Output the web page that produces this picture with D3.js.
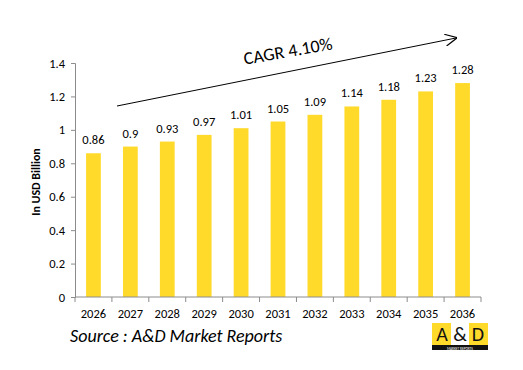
<!DOCTYPE html>
<html>
<head>
<meta charset="utf-8">
<script src="https://cdn.jsdelivr.net/npm/d3@7"></script>
<style>
  body { margin: 0; background: #fff; }
  svg text { font-family: Calibri, Carlito, Lato, "Open Sans", sans-serif; }
</style>
</head>
<body>
<div id="chart"></div>
<script>
// Données
const years = ["2026", "2027", "2028", "2029", "2030", "2031", "2032", "2033", "2034", "2035", "2036"];
const values = [0.86, 0.9, 0.93, 0.97, 1.01, 1.05, 1.09, 1.14, 1.18, 1.23, 1.28];
const yTicks = [0, 0.2, 0.4, 0.6, 0.8, 1, 1.2, 1.4];

const width = 523;
const height = 370;
const margin = {top: 63, right: 42, bottom: 73, left: 75};

const svg = d3.select("#chart")
    .append("svg")
    .attr("width", width)
    .attr("height", height);

const plot = svg.append("g")
    .attr("transform", `translate(${margin.left}, ${margin.top})`);

const innerW = width - margin.left - margin.right;
const innerH = height - margin.top - margin.bottom;

// Échelles
const scaleX = d3.scaleBand()
    .domain(years)
    .range([0, innerW])
    .paddingInner(0.6)
    .paddingOuter(0.3);

const scaleY = d3.scaleLinear()
    .domain([0, 1.4])
    .range([innerH, 0]);

const axisColor = "#8c8c8c";

// Barres
plot.selectAll("rect.bar")
    .data(values)
    .join("rect")
    .attr("class", "bar")
    .attr("x", (d, i) => scaleX(years[i]))
    .attr("y", d => scaleY(d))
    .attr("width", scaleX.bandwidth())
    .attr("height", d => innerH - scaleY(d))
    .attr("fill", "#FFDA2B");

// Étiquettes de valeurs
plot.selectAll("text.label")
    .data(values)
    .join("text")
    .attr("class", "label")
    .attr("x", (d, i) => scaleX(years[i]) + scaleX.bandwidth() / 2)
    .attr("y", d => scaleY(d) - 9)
    .attr("text-anchor", "middle")
    .attr("font-size", "12.5px")
    .attr("fill", "#000")
    .text(d => d);

// Axe Y
plot.append("g")
    .call(d3.axisLeft(scaleY).tickValues(yTicks).tickSize(4).tickPadding(6).tickFormat(d => d))
    .call(g => g.select(".domain").attr("stroke", axisColor))
    .call(g => g.selectAll(".tick line").attr("stroke", axisColor))
    .call(g => g.selectAll("text").attr("font-size", "12.5px").attr("fill", "#000"));

// Axe X : ligne + traits entre les catégories
const xAxis = plot.append("g").attr("transform", `translate(0, ${innerH})`);
xAxis.append("line")
    .attr("x1", 0).attr("x2", innerW)
    .attr("stroke", axisColor);
const bounds = d3.range(years.length + 1).map(i => i * innerW / years.length);
xAxis.selectAll("line.tk")
    .data(bounds)
    .join("line")
    .attr("class", "tk")
    .attr("x1", d => d).attr("x2", d => d)
    .attr("y1", 0).attr("y2", 5)
    .attr("stroke", axisColor);
xAxis.selectAll("text")
    .data(years)
    .join("text")
    .attr("x", d => scaleX(d) + scaleX.bandwidth() / 2)
    .attr("y", 21)
    .attr("text-anchor", "middle")
    .attr("font-size", "12.5px")
    .attr("fill", "#000")
    .text(d => d);

// Titre de l'axe Y
svg.append("text")
    .attr("transform", `translate(40, ${margin.top + innerH / 2 + 2}) rotate(-90)`)
    .attr("text-anchor", "middle")
    .attr("font-size", "12px")
    .attr("font-weight", "bold")
    .text("In USD Billion");

// Flèche CAGR
svg.append("defs").append("marker")
    .attr("id", "arrow")
    .attr("viewBox", "0 0 10 10")
    .attr("refX", 9).attr("refY", 5)
    .attr("markerWidth", 12).attr("markerHeight", 12)
    .attr("markerUnits", "userSpaceOnUse")
    .attr("orient", "auto")
    .append("path")
    .attr("d", "M0,0 L10,5 L0,10")
    .attr("fill", "none")
    .attr("stroke", "#000")
    .attr("stroke-width", 1);

svg.append("line")
    .attr("x1", 117).attr("y1", 106)
    .attr("x2", 456).attr("y2", 38)
    .attr("stroke", "#000")
    .attr("stroke-width", 1)
    .attr("marker-end", "url(#arrow)");

svg.append("text")
    .attr("transform", "translate(289, 57) rotate(-10)")
    .attr("text-anchor", "middle")
    .attr("font-size", "18px")
    .attr("fill", "#000")
    .text("CAGR 4.10%");

// Source
svg.append("text")
    .attr("x", 70).attr("y", 342)
    .attr("font-size", "18px")
    .attr("font-style", "italic")
    .attr("fill", "#000")
    .text("Source : A&D Market Reports");

// Logo A&D
const logo = svg.append("g").attr("transform", "translate(432, 323)");
logo.append("rect").attr("width", 56).attr("height", 22).attr("fill", "#FFDA2B");
logo.append("rect").attr("x", 19).attr("width", 18).attr("height", 22).attr("fill", "#fff");
logo.append("rect").attr("y", 22).attr("width", 56).attr("height", 5).attr("fill", "#111");
logo.append("text").attr("x", 10).attr("y", 18).attr("text-anchor", "middle")
    .attr("font-size", "20px").attr("fill", "#111").text("A");
logo.append("text").attr("x", 28).attr("y", 18).attr("text-anchor", "middle")
    .attr("font-size", "20px").attr("fill", "#111").text("&");
logo.append("text").attr("x", 46).attr("y", 18).attr("text-anchor", "middle")
    .attr("font-size", "20px").attr("fill", "#111").text("D");
logo.append("text").attr("x", 28).attr("y", 26.5).attr("text-anchor", "middle")
    .attr("font-size", "3.5px").attr("fill", "#fff").text("MARKET REPORTS");
</script>
</body>
</html>
